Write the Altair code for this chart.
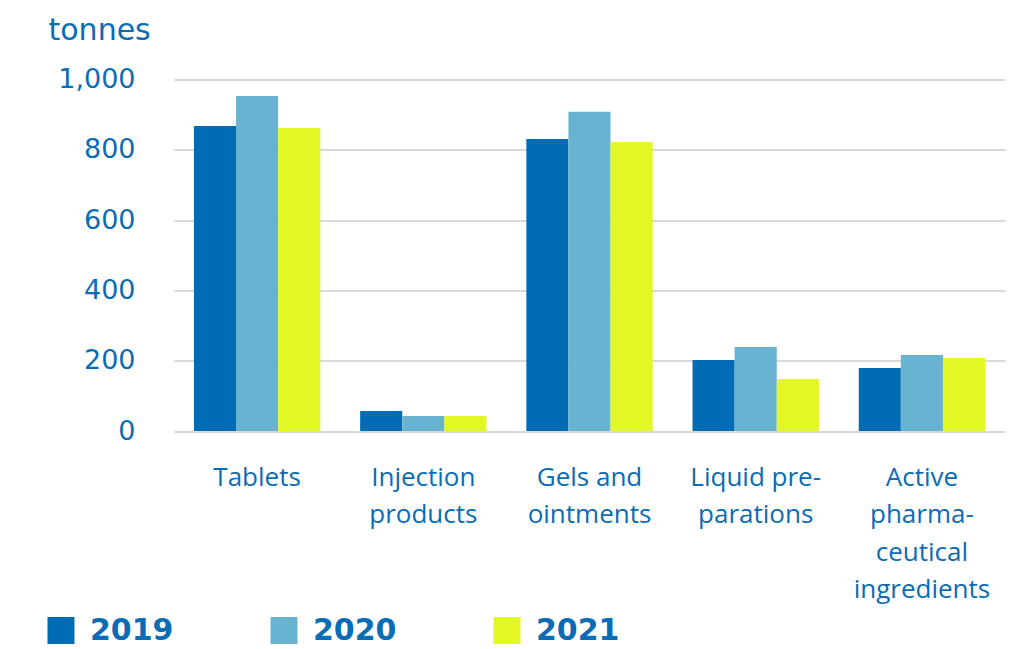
import altair as alt
import pandas as pd

categories = ["Tablets", "Injection|products", "Gels and|ointments",
              "Liquid pre-|parations", "Active|pharma-|ceutical|ingredients"]
years = ["2019", "2020", "2021"]
values_2019 = [868, 57, 831, 202, 179]
values_2020 = [953, 43, 908, 239, 216]
values_2021 = [862, 43, 822, 148, 208]
colors = ["#006cb4", "#69b3d2", "#e2f723"]
y_ticks = [0, 200, 400, 600, 800, 1000]

rows = []
for yr, vals in zip(years, [values_2019, values_2020, values_2021]):
    for c, v in zip(categories, vals):
        rows.append({"category": c, "year": yr, "value": v})
df = pd.DataFrame(rows)

TEXT = "#0a6cb4"

chart = alt.Chart(df).mark_bar().encode(
    x=alt.X("category:N", sort=categories,
            scale=alt.Scale(paddingInner=0.24, paddingOuter=0.12),
            axis=alt.Axis(title=None, labelAngle=0, domain=False, ticks=False,
                          labelExpr="split(datum.label, '|')",
                          labelFont="Open Sans", labelFontSize=26,
                          labelColor=TEXT, labelPadding=33,
                          labelLineHeight=37.5, labelBaseline="top")),
    xOffset=alt.XOffset("year:N", sort=years,
                        scale=alt.Scale(paddingInner=0, paddingOuter=0)),
    y=alt.Y("value:Q", scale=alt.Scale(domain=[0, 1000], nice=False),
            axis=alt.Axis(values=y_ticks, format=",.0f", domain=False, ticks=False,
                          labelFont="DejaVu Sans", labelFontSize=27, labelColor=TEXT,
                          labelPadding=39, gridColor="#cccccc", gridWidth=1.5,
                          title="tonnes", titleAngle=0, titleAlign="left",
                          titleBaseline="alphabetic", titleX=-126, titleY=-40,
                          titleFont="DejaVu Sans", titleFontSize=30,
                          titleFontWeight="normal", titleColor=TEXT)),
    color=alt.Color("year:N", sort=years,
                    scale=alt.Scale(domain=years, range=colors),
                    legend=alt.Legend(title=None, orient="none",
                                      legendX=-128, legendY=536,
                                      direction="horizontal",
                                      symbolType="square", symbolSize=729,
                                      symbolStrokeWidth=0, symbolOpacity=1,
                                      labelFont="DejaVu Sans", labelFontSize=30,
                                      labelFontWeight="bold", labelColor=TEXT,
                                      labelOffset=14, columnPadding=95)),
).properties(
    width=831, height=351.5,
    padding={"left": 166, "top": 71.5, "right": 14, "bottom": 218},
    autosize="none", background="white",
).configure_view(stroke=None)

chart.save("out.html", embed_options={"renderer": "svg", "actions": False})
